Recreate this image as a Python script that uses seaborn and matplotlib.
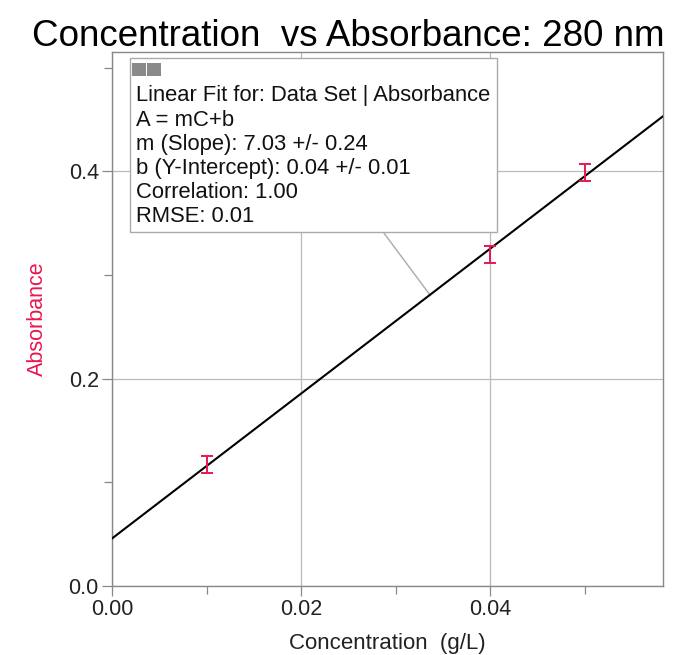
import numpy as np
import pandas as pd
import matplotlib
matplotlib.use("Agg")
import matplotlib.pyplot as plt
import seaborn as sns
from matplotlib.ticker import MultipleLocator, FormatStrFormatter
from matplotlib.patches import Rectangle

concentration = [0.01, 0.04, 0.05]
absorbance = [0.117, 0.320, 0.399]
abs_error = [0.008, 0.008, 0.008]
fit_text = ["Linear Fit for: Data Set | Absorbance",
            "A = mC+b",
            "m (Slope): 7.03 +/- 0.24",
            "b (Y-Intercept): 0.04 +/- 0.01",
            "Correlation: 1.00",
            "RMSE: 0.01"]

sns.set_theme(style="white")
plt.rcParams['font.family'] = ['Liberation Sans', 'DejaVu Sans']

df = pd.DataFrame({"Concentration": concentration, "Absorbance": absorbance})

fig = plt.figure(figsize=(6.8, 6.55), dpi=100)
ax = fig.add_axes([0.1647, 0.1053, 0.975 - 0.1647, 0.9206 - 0.1053])
ax.set_xlim(0, 0.0583)
ax.set_ylim(0, 0.515)

red = "#e8174f"
sns.regplot(data=df, x="Concentration", y="Absorbance", ax=ax, ci=None,
            truncate=False, scatter=False,
            line_kws=dict(color="black", lw=1.5, zorder=3))
ax.errorbar(concentration, absorbance, yerr=abs_error, fmt="none",
            ecolor=red, elinewidth=1.4, capsize=4.3, capthick=1.4, zorder=4)

ax.set_xlim(0, 0.0583)
ax.set_ylim(0, 0.515)
ax.xaxis.set_major_locator(MultipleLocator(0.02))
ax.xaxis.set_minor_locator(MultipleLocator(0.01))
ax.yaxis.set_major_locator(MultipleLocator(0.2))
ax.yaxis.set_minor_locator(MultipleLocator(0.1))
ax.xaxis.set_major_formatter(FormatStrFormatter("%.2f"))
ax.yaxis.set_major_formatter(FormatStrFormatter("%.1f"))
ax.grid(True, which="major", color="#bbbbbb", lw=0.9)
ax.tick_params(which="both", direction="out", length=7.5, width=0.9, color="#888888",
               labelsize=15.5, labelcolor="#222222", left=True, bottom=True, pad=2)
ax.tick_params(which="minor", length=6)
for s in ax.spines.values():
    s.set_color("#888888")
    s.set_linewidth(1.0)

ax.set_xlabel("Concentration  (g/L)", fontsize=16, color="#222222", labelpad=9)
ax.set_ylabel("Absorbance", fontsize=15.5, color=red, labelpad=15)
fig.text(0.512, 0.945, "Concentration  vs Absorbance: 280 nm", ha="center",
         va="center", fontsize=26.5, color="black")

# connector line from box to fit line
ax.plot([0.0284, 0.0337], [0.345, 0.280], color="#aaaaaa", lw=1.0, zorder=2)

# annotation box
bx0, by0 = 130 / 680, 1 - 232 / 655
bw, bh = (497 - 130) / 680, (232 - 58) / 655
fig.patches.append(Rectangle((bx0, by0), bw, bh, transform=fig.transFigure,
                             facecolor="white", edgecolor="#aaaaaa", lw=1.0, zorder=5))
fig.patches.append(Rectangle((132 / 680, 1 - 76 / 655), 14 / 680, 13 / 655,
                             transform=fig.transFigure, facecolor="#8a8a8a",
                             edgecolor="none", zorder=6))
fig.patches.append(Rectangle((147 / 680, 1 - 76 / 655), 14 / 680, 13 / 655,
                             transform=fig.transFigure, facecolor="#8a8a8a",
                             edgecolor="none", zorder=6))
for i, t in enumerate(fit_text):
    fig.text(bx0 + 6 / 680, 1 - (96 + i * 24.2) / 655, t, ha="left", va="center",
             fontsize=15.8, color="#111111", zorder=7)

fig.savefig("out.png", dpi=100)
